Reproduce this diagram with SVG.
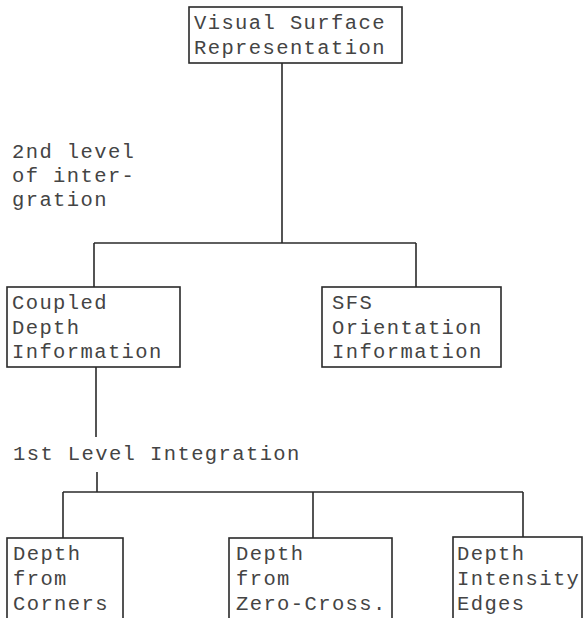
<svg xmlns="http://www.w3.org/2000/svg" width="583" height="618" viewBox="0 0 583 618">
<style>
  .box { fill: #ffffff; stroke: #2a2a2a; stroke-width: 1.6; }
  .line { fill: none; stroke: #2a2a2a; stroke-width: 1.6; }
  text { font-family: "Liberation Mono", "Courier New", monospace; font-size: 20.5px; letter-spacing: 1.4px; fill: #444444; }
</style>
<rect width="583" height="618" fill="#ffffff"/>
<g id="connectors">
  <line class="line" x1="282" y1="63" x2="282" y2="243"/>
  <line class="line" x1="94" y1="243" x2="416" y2="243"/>
  <line class="line" x1="94" y1="243" x2="94" y2="287"/>
  <line class="line" x1="416" y1="243" x2="416" y2="287"/>
  <line class="line" x1="96" y1="367" x2="96" y2="437"/>
  <line class="line" x1="97" y1="472" x2="97" y2="492"/>
  <line class="line" x1="63" y1="492" x2="523" y2="492"/>
  <line class="line" x1="63" y1="492" x2="63" y2="538"/>
  <line class="line" x1="313" y1="492" x2="313" y2="538"/>
  <line class="line" x1="523" y1="492" x2="523" y2="537"/>
</g>
<g id="visual-surface">
  <rect class="box" x="189" y="7" width="213" height="56"/>
  <text x="194" y="29">Visual Surface</text>
  <text x="194" y="54">Representation</text>
</g>
<g id="label-2nd-level">
  <text x="12" y="158">2nd level</text>
  <text x="12" y="182">of inter-</text>
  <text x="12" y="206">gration</text>
</g>
<g id="coupled-depth">
  <rect class="box" x="7" y="287" width="173" height="80"/>
  <text x="12" y="309">Coupled</text>
  <text x="12" y="334">Depth</text>
  <text x="12" y="358">Information</text>
</g>
<g id="sfs-orientation">
  <rect class="box" x="322" y="287" width="179" height="80"/>
  <text x="332" y="309">SFS</text>
  <text x="332" y="334">Orientation</text>
  <text x="332" y="358">Information</text>
</g>
<g id="label-1st-level">
  <text x="13" y="460">1st Level Integration</text>
</g>
<g id="depth-corners">
  <rect class="box" x="7" y="538" width="116" height="100"/>
  <text x="13" y="560">Depth</text>
  <text x="13" y="585">from</text>
  <text x="13" y="610">Corners</text>
</g>
<g id="depth-zero-cross">
  <rect class="box" x="229" y="538" width="163" height="100"/>
  <text x="236" y="560">Depth</text>
  <text x="236" y="585">from</text>
  <text x="236" y="610">Zero-Cross.</text>
</g>
<g id="depth-intensity">
  <rect class="box" x="453" y="537" width="129" height="100"/>
  <text x="457" y="560">Depth</text>
  <text x="457" y="585">Intensity</text>
  <text x="457" y="610">Edges</text>
</g>
</svg>
